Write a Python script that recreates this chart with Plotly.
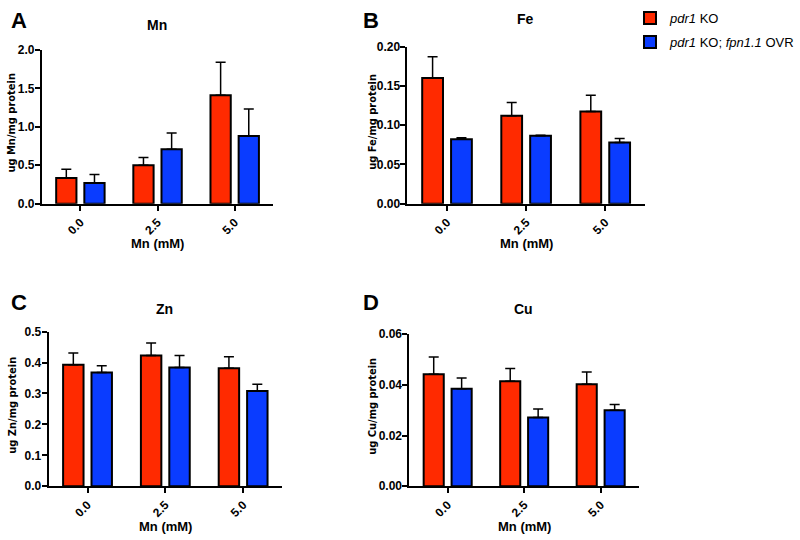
import plotly.graph_objects as go

categories = ["0.0", "2.5", "5.0"]
series_names = ["<i>pdr1</i> KO", "<i>pdr1</i> KO; <i>fpn1.1</i> OVR"]

mn_ko = [0.336, 0.50, 1.41]
mn_ko_err = [0.114, 0.10, 0.43]
mn_ovr = [0.27, 0.71, 0.88]
mn_ovr_err = [0.11, 0.21, 0.35]

fe_ko = [0.160, 0.112, 0.1175]
fe_ko_err = [0.027, 0.017, 0.0205]
fe_ovr = [0.082, 0.0866, 0.078]
fe_ovr_err = [0.002, 0.0006, 0.005]

zn_ko = [0.393, 0.423, 0.382]
zn_ko_err = [0.038, 0.040, 0.037]
zn_ovr = [0.368, 0.384, 0.308]
zn_ovr_err = [0.022, 0.039, 0.022]

cu_ko = [0.0442, 0.0415, 0.0403]
cu_ko_err = [0.0068, 0.0050, 0.0048]
cu_ovr = [0.0385, 0.0271, 0.0300]
cu_ovr_err = [0.0042, 0.0034, 0.0023]

RED = "#ff2a00"
BLUE = "#0a3cff"
FONT = "Liberation Sans, Arial, sans-serif"
NARROW = "Liberation Sans Narrow, DejaVu Sans Condensed, Arial Narrow, Liberation Sans, sans-serif"

# letter, title, ylabel, data..., yrange, dtick, fmt, xdomain(px), ydomain(px: bottom, top), title_y px, ylabel_x px, letter pos
panels = [
    ("A", "Mn", "ug Mn/mg protein", mn_ko, mn_ko_err, mn_ovr, mn_ovr_err,
     [0, 2.0], 0.5, ".1f", (43, 281), (202, 44), 18, 12, (20, 0)),
    ("B", "Fe", "ug Fe/mg protein", fe_ko, fe_ko_err, fe_ovr, fe_ovr_err,
     [0, 0.2], 0.05, ".2f", (419, 663), (202, 40.7), 12, 383, (382, 0)),
    ("C", "Zn", "ug Zn/mg protein", zn_ko, zn_ko_err, zn_ovr, zn_ovr_err,
     [0, 0.5], 0.1, ".1f", (50, 290), (492, 333.3), 310, 12, (20, 290)),
    ("D", "Cu", "ug Cu/mg protein", cu_ko, cu_ko_err, cu_ovr, cu_ovr_err,
     [0, 0.06], 0.02, ".2f", (421, 657), (492, 336), 310, 383, (382, 290)),
]

W, H = 800, 540
fig = go.Figure()
annotations = []
layout = {}

for i, (letter, title, ylab, ko, ko_err, ovr, ovr_err, yr, dt, fmt, xpx, ypx, ty, ylx, lpos) in enumerate(panels):
    n = i + 1
    xa = "x" if n == 1 else f"x{n}"
    ya = "y" if n == 1 else f"y{n}"
    xd = [xpx[0] / W, xpx[1] / W]
    yd = [1 - ypx[0] / H, 1 - ypx[1] / H]
    for name, vals, errs, col in [(series_names[0], ko, ko_err, RED),
                                  (series_names[1], ovr, ovr_err, BLUE)]:
        fig.add_trace(go.Bar(
            x=categories, y=vals, name=name, legendgroup=name,
            showlegend=(n == 2),
            marker=dict(color=col, line=dict(color="black", width=2)),
            error_y=dict(type="data", array=errs, arrayminus=[0]*len(errs),
                         symmetric=False, color="black", thickness=1.5, width=5),
            xaxis=xa, yaxis=ya,
        ))
    xkey = "xaxis" if n == 1 else f"xaxis{n}"
    ykey = "yaxis" if n == 1 else f"yaxis{n}"
    layout[xkey] = dict(domain=xd, anchor=ya, type="category", range=[-0.5, 2.5],
                        showline=True, linecolor="black", linewidth=2,
                        ticks="outside", ticklen=5, tickwidth=2, tickcolor="black",
                        tickangle=-45, showgrid=False, zeroline=False,
                        tickfont=dict(family=FONT, size=12, color="black", weight="bold"))
    layout[ykey] = dict(domain=yd, anchor=xa, range=yr, dtick=dt, tick0=0, tickformat=fmt,
                        showline=True, linecolor="black", linewidth=2,
                        ticks="outside", ticklen=5, tickwidth=2, tickcolor="black",
                        showgrid=False, zeroline=False, ticklabelstandoff=-2,
                        tickfont=dict(family=FONT, size=12, color="black", weight="bold"))
    xc = (xd[0] + xd[1]) / 2
    annotations.append(dict(text=f"<b>{title}</b>", xref="paper", yref="paper",
                            x=xc - 1/W, y=1 - ty / H, showarrow=False,
                            xanchor="center", yanchor="middle",
                            font=dict(family=FONT, size=14, color="black")))
    annotations.append(dict(text="<b>Mn (mM)</b>", xref="paper", yref="paper",
                            x=xc, y=yd[0] - 41/H, showarrow=False,
                            xanchor="center", yanchor="middle",
                            font=dict(family=FONT, size=13, color="black")))
    annotations.append(dict(text=f"<b>{ylab}</b>", xref="paper", yref="paper",
                            x=ylx / W, y=(yd[0] + yd[1]) / 2 + 4/H, showarrow=False,
                            textangle=-90, xanchor="center", yanchor="middle",
                            font=dict(family=NARROW, size=11, color="black")))
    annotations.append(dict(text=f"<b>{letter}</b>", xref="paper", yref="paper",
                            x=lpos[0] / W, y=1 - lpos[1] / H, showarrow=False,
                            xanchor="center", yanchor="top", borderpad=0,
                            font=dict(family=FONT, size=22, color="black")))

fig.update_layout(
    width=W, height=H,
    margin=dict(l=0, r=0, t=0, b=0),
    paper_bgcolor="white", plot_bgcolor="white",
    barmode="group", bargap=0.27, bargroupgap=0.28,
    showlegend=True,
    legend=dict(x=648/W, y=1 + 4/H, xanchor="left", yanchor="top",
                font=dict(family=FONT, size=13, color="black"),
                tracegroupgap=4, itemsizing="constant", bgcolor="rgba(0,0,0,0)"),
    annotations=annotations,
    **layout,
)

fig.write_html("out.html", config={"displayModeBar": False},
               post_script="document.body.style.margin='0';document.body.style.overflow='hidden';")
